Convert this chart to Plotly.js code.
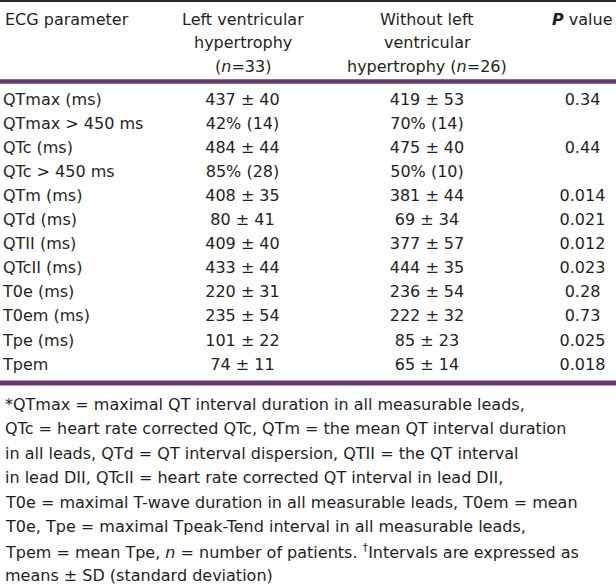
<!DOCTYPE html>
<html>
<head>
<meta charset="utf-8">
<script src="https://cdn.plot.ly/plotly-3.0.1.min.js"></script>
<style>html,body{margin:0;padding:0;background:#fff;}#chart{width:616px;height:584px;}</style>
</head>
<body>
<div id="chart"></div>
<script>
// ---- data ----
const parameters = ["QTmax (ms)", "QTmax > 450 ms", "QTc (ms)", "QTc > 450 ms", "QTm (ms)", "QTd (ms)", "QTII (ms)", "QTcII (ms)", "T0e (ms)", "T0em (ms)", "Tpe (ms)", "Tpem"];
const withLVH = ["437 ± 40", "42% (14)", "484 ± 44", "85% (28)", "408 ± 35", "80 ± 41", "409 ± 40", "433 ± 44", "220 ± 31", "235 ± 54", "101 ± 22", "74 ± 11"];
const withoutLVH = ["419 ± 53", "70% (14)", "475 ± 40", "50% (10)", "381 ± 44", "69 ± 34", "377 ± 57", "444 ± 35", "236 ± 54", "222 ± 32", "85 ± 23", "65 ± 14"];
const pValues = ["0.34", "", "0.44", "", "0.014", "0.021", "0.012", "0.023", "0.28", "0.73", "0.025", "0.018"];
const headers = [
  ["ECG parameter"],
  ["Left ventricular", "hypertrophy", "(<i>n</i>=33)"],
  ["Without left", "ventricular", "hypertrophy (<i>n</i>=26)"],
  ["<b><i>P</i></b> value"]
];
const footnote = [
  "*QTmax = maximal QT interval duration in all measurable leads,",
  "QTc = heart rate corrected QTc, QTm = the mean QT interval duration",
  "in all leads, QTd = QT interval dispersion, QTII = the QT interval",
  "in lead DII, QTcII = heart rate corrected QT interval in lead DII,",
  "T0e = maximal T-wave duration in all measurable leads, T0em = mean",
  "T0e, Tpe = maximal Tpeak-Tend interval in all measurable leads,",
  "Tpem = mean Tpe, <i>n</i> = number of patients. <sup>†</sup>Intervals are expressed as",
  "means ± SD (standard deviation)"
];

// ---- layout constants ----
const W = 616, H = 584;
const FONT = "DejaVu Sans";
const FS = 16;
const TXT = "#231f20";
const PURPLE = "#633a6e";
const colX = [3, 242.5, 427, 582.5];
const row0 = 101, rowStep = 24.05;
const headerY = [19.5, 42.8, 66.1];
const footY0 = 404, footStep = 24.5;

const idx = parameters.map((_, i) => i);
const yTop = -row0 / rowStep;
const ySpan = H / rowStep;

function textTrace(x, texts, pos) {
  const keep = idx.filter(i => texts[i] !== "");
  return {
    type: "scatter", mode: "text",
    x: keep.map(() => x), y: keep, text: keep.map(i => texts[i]),
    textposition: pos,
    textfont: {family: FONT, size: FS, color: TXT},
    hoverinfo: "skip", showlegend: false, cliponaxis: false
  };
}

const traces = [
  textTrace(colX[0], parameters, "middle right"),
  textTrace(colX[1], withLVH, "middle center"),
  textTrace(colX[2], withoutLVH, "middle center"),
  textTrace(colX[3], pValues, "middle center")
];

const py = p => 1 - p / H;
const annotations = [];
headers.forEach((lines, c) => {
  lines.forEach((t, k) => {
    annotations.push({
      xref: "x", yref: "paper", x: colX[c], y: py(headerY[k]),
      xanchor: c === 0 ? "left" : "center", yanchor: "middle",
      text: t, showarrow: false,
      font: {family: FONT, size: FS, color: TXT}
    });
  });
});
footnote.forEach((t, k) => {
  annotations.push({
    xref: "x", yref: "paper", x: colX[0], y: py(footY0 + k * footStep),
    xanchor: "left", yanchor: "middle", align: "left",
    text: t, showarrow: false,
    font: {family: FONT, size: FS, color: TXT}
  });
});

const hline = (yPx, w, color) => ({
  type: "line", xref: "paper", yref: "paper", x0: 0, x1: 1,
  y0: py(yPx), y1: py(yPx), line: {color: color, width: w}
});

const layout = {
  width: W, height: H,
  margin: {l: 0, r: 0, t: 0, b: 0, pad: 0},
  paper_bgcolor: "#ffffff", plot_bgcolor: "#ffffff",
  xaxis: {range: [0, W], visible: false, fixedrange: true},
  yaxis: {range: [yTop + ySpan, yTop], visible: false, fixedrange: true},
  showlegend: false,
  annotations: annotations,
  shapes: [hline(1, 2, "#2a2a2a"), hline(81.4, 4.5, PURPLE), hline(383, 5, PURPLE)]
};

Plotly.newPlot("chart", traces, layout, {displayModeBar: false, staticPlot: true});
</script>
</body>
</html>
